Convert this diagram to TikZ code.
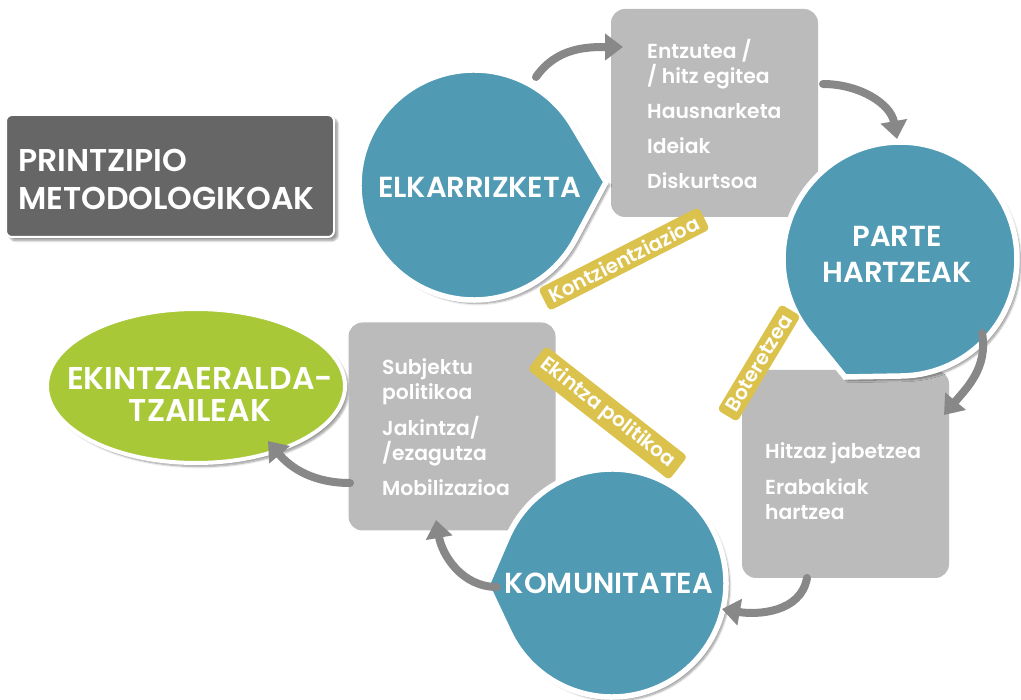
\documentclass[tikz,border=0pt]{standalone}
\usepackage{fontspec}
\setmainfont{Poppins}[BoldFont={Poppins SemiBold}]
\usetikzlibrary{arrows.meta,shapes.geometric,shadows.blur}
\definecolor{cTeal}{HTML}{509AB4}
\definecolor{cBox}{HTML}{BBBBBB}
\definecolor{cDark}{HTML}{666666}
\definecolor{cGreen}{HTML}{A8C838}
\definecolor{cYel}{HTML}{DBC24D}
\definecolor{cArr}{HTML}{888888}
\begin{document}
\begin{tikzpicture}[x=1pt,y=-1pt,
  shad/.style={blur shadow={shadow xshift=3.5pt,shadow yshift=-3.5pt,shadow blur steps=8,shadow opacity=42}},
  greybox/.style={fill=cBox, rounded corners=14pt, minimum width=207pt, minimum height=208pt, inner sep=0pt},
  boxtxt/.style={text=white, font=\fontsize{20.3}{25}\selectfont\bfseries, align=left, inner sep=0pt, anchor=north west},
  circ/.style={fill=cTeal, draw=white, line width=5.5pt, shad},
  bigtxt/.style={text=white, font=\fontsize{29}{36}\selectfont\bfseries, align=center, inner sep=0pt},
  lab/.style={fill=cYel, text=white, rounded corners=4pt, font=\fontsize{20}{20}\selectfont\bfseries, inner xsep=7pt, inner ysep=4.5pt},
  arr/.style={draw=cArr, line width=8pt, line cap=round, -{Triangle[width=26pt,length=18pt]}}
]
\useasboundingbox (0,0) rectangle (1021,700);

% title
\node[fill=cDark, draw=white, line width=2pt, rounded corners=6pt, minimum width=328pt, minimum height=122pt, shad] (title) at (170,176) {};
\node[text=white, font=\fontsize{31.5}{38}\selectfont\bfseries, align=left, inner sep=0pt, anchor=west] (titletxt) at (18,179.5) {PRINTZIPIO\\METODOLOGIKOAK};

% green ellipse
\node[ellipse, fill=cGreen, draw=white, line width=4pt, minimum width=298pt, minimum height=154pt, inner sep=0pt, shad] (eraldatz) at (196,386) {};
\node[bigtxt, font=\fontsize{31.5}{32}\selectfont\bfseries] (eraldatztxt) at (200,394) {EKINTZAERALDA-\\TZAILEAK};

% grey boxes
\node[greybox] (box1) at (714.5,113) {};
\node[greybox] (box2) at (845.5,474) {};
\node[greybox] (box3) at (452,426.5) {};

% teardrop circles
\path[circ] (474,185) ++(28.1:115) arc[start angle=28.1, end angle=329.3, radius=115] -- (606,182) -- cycle;
\path[circ] (900,259) ++(141:117) arc[start angle=141, end angle=449, radius=117] -- (845,377) -- cycle;
\path[circ] (612,583) ++(203.3:114) arc[start angle=203.3, end angle=514.9, radius=114] -- (487,585) -- cycle;

\node[bigtxt] (elk) at (479.5,187.5) {ELKARRIZKETA};
\node[bigtxt] (parte) at (897,254) {PARTE\\HARTZEAK};
\node[bigtxt] (komun) at (609,583.5) {KOMUNITATEA};

% box texts
\node[boxtxt] (b1txt) at (647,39.5) {Entzutea /\\/ hitz egitea\\[9.5pt]Hausnarketa\\[10pt]Ideiak\\[10pt]Diskurtsoa};
\node[boxtxt] (b2txt) at (765,442) {Hitzaz jabetzea\\[11pt]Erabakiak\\hartzea};
\node[boxtxt] (b3txt) at (382,358.5) {Subjektu\\politikoa\\[11pt]Jakintza/\\/ezagutza\\[10pt]Mobilizazioa};

% arrow end points
\coordinate (a1s) at (536,77);  \coordinate (a1e) at (623,47);
\coordinate (a2s) at (823,84);  \coordinate (a2e) at (897,139);
\coordinate (a3s) at (982,333); \coordinate (a3e) at (944,415);
\coordinate (a4s) at (807,578); \coordinate (a4e) at (722,609);
\coordinate (a5s) at (497,587); \coordinate (a5e) at (436,520);
\coordinate (a6s) at (350,483); \coordinate (a6e) at (268,441);

\draw[arr] (a1s) to[out=55, in=180] (a1e);
\draw[arr] (a2s) to[out=0, in=100] (a2e);
\draw[arr] (a3s) to[out=-80, in=50] (a3e);
\draw[arr] (a4s) to[out=-100, in=-10] (a4e);
\draw[arr] (a5s) to[out=180, in=-80] (a5e);
\draw[arr] (a6s) to[out=180, in=-50] (a6e);

% yellow labels
\node[lab, rotate=27] (kontz) at (624,259) {Kontzientziazioa};
\node[lab, rotate=59] (boter) at (759,363) {Boteretzea};
\node[lab, rotate=-38] (ekpol) at (607.5,413) {Ekintza politikoa};
\end{tikzpicture}
\end{document}
